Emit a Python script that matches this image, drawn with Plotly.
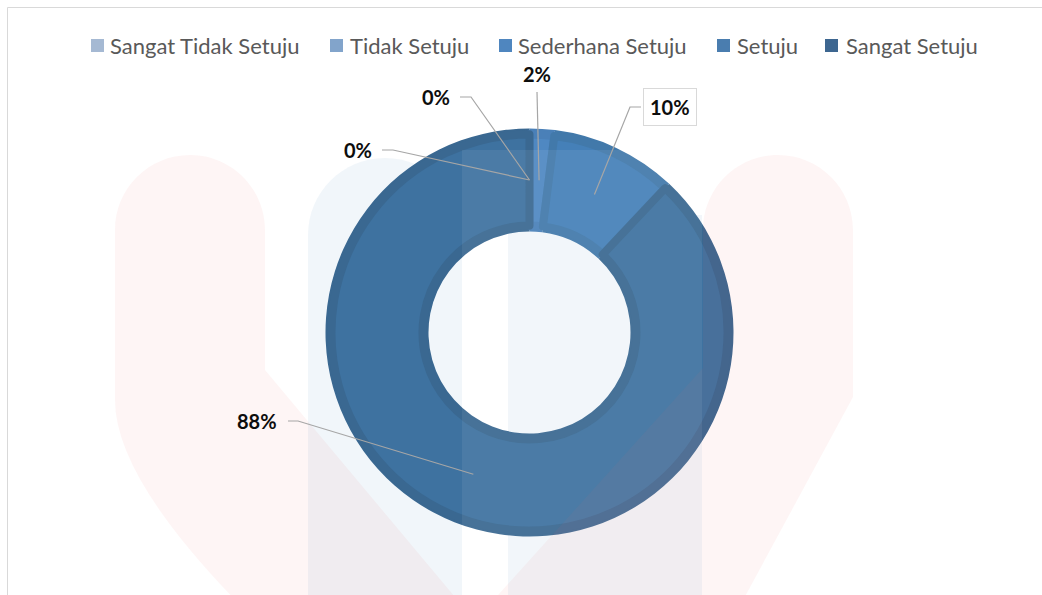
import math
import plotly.graph_objects as go

# ---------------- data ----------------
categories = ["Sangat Tidak Setuju", "Tidak Setuju", "Sederhana Setuju", "Setuju", "Sangat Setuju"]
values = [0, 0, 2, 10, 88]
value_labels = ["0%", "0%", "2%", "10%", "88%"]

# ---------------- styles ----------------
legend_colors = ["#A5B9D3", "#82A4CB", "#4F86BF", "#4A7DAF", "#3D6690"]
edge_colors = ["#3A6891", "#3A6891", "#4A80B8", "#4279AA", "#3A6891"]
fill_colors = ["#A5B9D3", "#82A4CB", "#4F88C2", "#4580B8", "#3E72A0"]

W, H = 1042, 595
CX, CY = 529.5, 332.5
R_OUT, R_IN = 204, 101
R_B_OUT, R_B_IN = 198, 107
EDGE_W = 8

# label layout (pixel positions of label centres and elbow x-range)
label_pos = [(358, 150), (436, 97), (537, 74), (670, 107), (257, 421)]
elbow_x = [(382, 393), (460, 471), None, (641, 630), (288, 298)]

legend_square_x = [91, 330, 499, 717, 825]
legend_text_x = [108, 348, 516, 735, 844]
LEGEND_Y = 45.5


def px(x):
    return x / W


def py(y):
    return 1 - y / H


def domain(r):
    return dict(x=[px(CX - r), px(CX + r)], y=[py(CY + r), py(CY - r)])


fig = go.Figure()

# base (edge-coloured) ring
fig.add_trace(go.Pie(
    labels=categories, values=values, sort=False, direction="clockwise", rotation=0,
    hole=R_IN / R_OUT, domain=domain(R_OUT), textinfo="none", showlegend=False,
    marker=dict(colors=edge_colors, line=dict(width=0)),
    hoverinfo="label+percent",
))
# inner fill ring with edge-coloured borders
fig.add_trace(go.Pie(
    labels=categories, values=values, sort=False, direction="clockwise", rotation=0,
    hole=R_B_IN / R_B_OUT, domain=domain(R_B_OUT), textinfo="none", showlegend=False,
    marker=dict(colors=fill_colors, line=dict(width=EDGE_W, color=edge_colors)),
    hoverinfo="label+percent",
))

shapes = []
annotations = []


# ---- watermark (faint) ----
def path(cmds, close=True):
    out = []
    for cmd in cmds:
        c = cmd[0]
        nums = cmd[1:]
        coords = []
        for i in range(0, len(nums), 2):
            coords.append(f"{px(nums[i]):.5f},{py(nums[i+1]):.5f}")
        out.append(c + " " + " ".join(coords))
    return " ".join(out) + (" Z" if close else "")


def round_top(x0, x1, ytop):
    r = (x1 - x0) / 2
    k = 0.5523 * r
    xm = (x0 + x1) / 2
    yc = ytop + r
    return [("L", x0, yc),
            ("C", x0, yc - k, xm - k, ytop, xm, ytop),
            ("C", xm + k, ytop, x1, yc - k, x1, yc)]


blue_left = path([("M", 308, 620)] + round_top(308, 462, 158) + [("L", 462, 620)])
blue_right = path([("M", 508, 620), ("L", 508, 215), ("L", 702, 215), ("L", 702, 620)])
for p in (blue_left, blue_right):
    shapes.append(dict(type="path", path=p, xref="paper", yref="paper", layer="below",
                       fillcolor="rgba(70,130,190,0.075)", line=dict(width=0)))

pink_left = path([("M", 115, 400)] + round_top(115, 265, 155) +
                 [("L", 265, 370), ("L", 470, 615), ("L", 250, 615), ("Q", 115, 480, 115, 400)])
pink_right = path([("M", 703, 368)] + round_top(703, 853, 155) +
                  [("L", 853, 397), ("L", 735, 615), ("L", 480, 615)])
for p in (pink_left, pink_right):
    shapes.append(dict(type="path", path=p, xref="paper", yref="paper", layer="above",
                       fillcolor="rgba(230,80,80,0.06)", line=dict(width=0)))
shapes.append(dict(type="rect", xref="paper", yref="paper", layer="above",
                   x0=px(462), x1=px(702), y0=py(620), y1=py(150),
                   fillcolor="rgba(255,255,255,0.07)", line=dict(width=0)))

# ---- frame ----
shapes.append(dict(type="rect", xref="paper", yref="paper", layer="above",
                   x0=px(7.5), x1=px(1060), y0=py(620), y1=py(7.5),
                   fillcolor="rgba(0,0,0,0)", line=dict(color="#D9D9D9", width=1)))

# ---- data labels with leader lines ----
total = sum(values)
cum = 0.0
r_mid = (R_IN + R_OUT) / 2
for i, (cat, v, txt) in enumerate(zip(categories, values, value_labels)):
    mid = (cum + v / 2) / total * 2 * math.pi
    cum += v
    ax_ = CX + r_mid * math.sin(mid)
    ay_ = CY - r_mid * math.cos(mid)
    lx, ly = label_pos[i]
    if elbow_x[i] is None:
        pts = [(lx, ly + 18), (ax_, ay_)]
    else:
        pts = [(elbow_x[i][0], ly), (elbow_x[i][1], ly), (ax_, ay_)]
    d = "M " + " L ".join(f"{px(a):.5f},{py(b):.5f}" for a, b in pts)
    shapes.append(dict(type="path", path=d, xref="paper", yref="paper", layer="above",
                       line=dict(color="#A6A6A6", width=1.2)))
    boxed = (txt == "10%")
    annotations.append(dict(
        x=px(lx), y=py(ly), xref="paper", yref="paper", showarrow=False,
        text=f"<b>{txt}</b>", font=dict(family="Lato", size=20, color="#0D0D0D"),
        xanchor="center", yanchor="middle",
        bgcolor="white" if boxed else None,
        bordercolor="#D9D9D9" if boxed else None, borderwidth=1 if boxed else 0,
        borderpad=6 if boxed else 0,
    ))

# ---- legend (manual) ----
for i, cat in enumerate(categories):
    sx = legend_square_x[i]
    shapes.append(dict(type="rect", xref="paper", yref="paper", layer="above",
                       x0=px(sx), x1=px(sx + 13), y0=py(LEGEND_Y + 6.5), y1=py(LEGEND_Y - 6.5),
                       fillcolor=legend_colors[i], line=dict(width=0)))
    annotations.append(dict(
        x=px(legend_text_x[i]), y=py(LEGEND_Y), xref="paper", yref="paper", showarrow=False,
        text=cat, font=dict(family="Lato", size=22, color="#595959"),
        xanchor="left", yanchor="middle",
    ))

fig.update_layout(
    width=W, height=H, margin=dict(l=0, r=0, t=0, b=0),
    paper_bgcolor="white", plot_bgcolor="white",
    shapes=shapes, annotations=annotations, showlegend=False,
)

fig.write_html("out.html", config={"displayModeBar": False},
               post_script="document.body.style.margin='0';document.body.style.overflow='hidden';")
